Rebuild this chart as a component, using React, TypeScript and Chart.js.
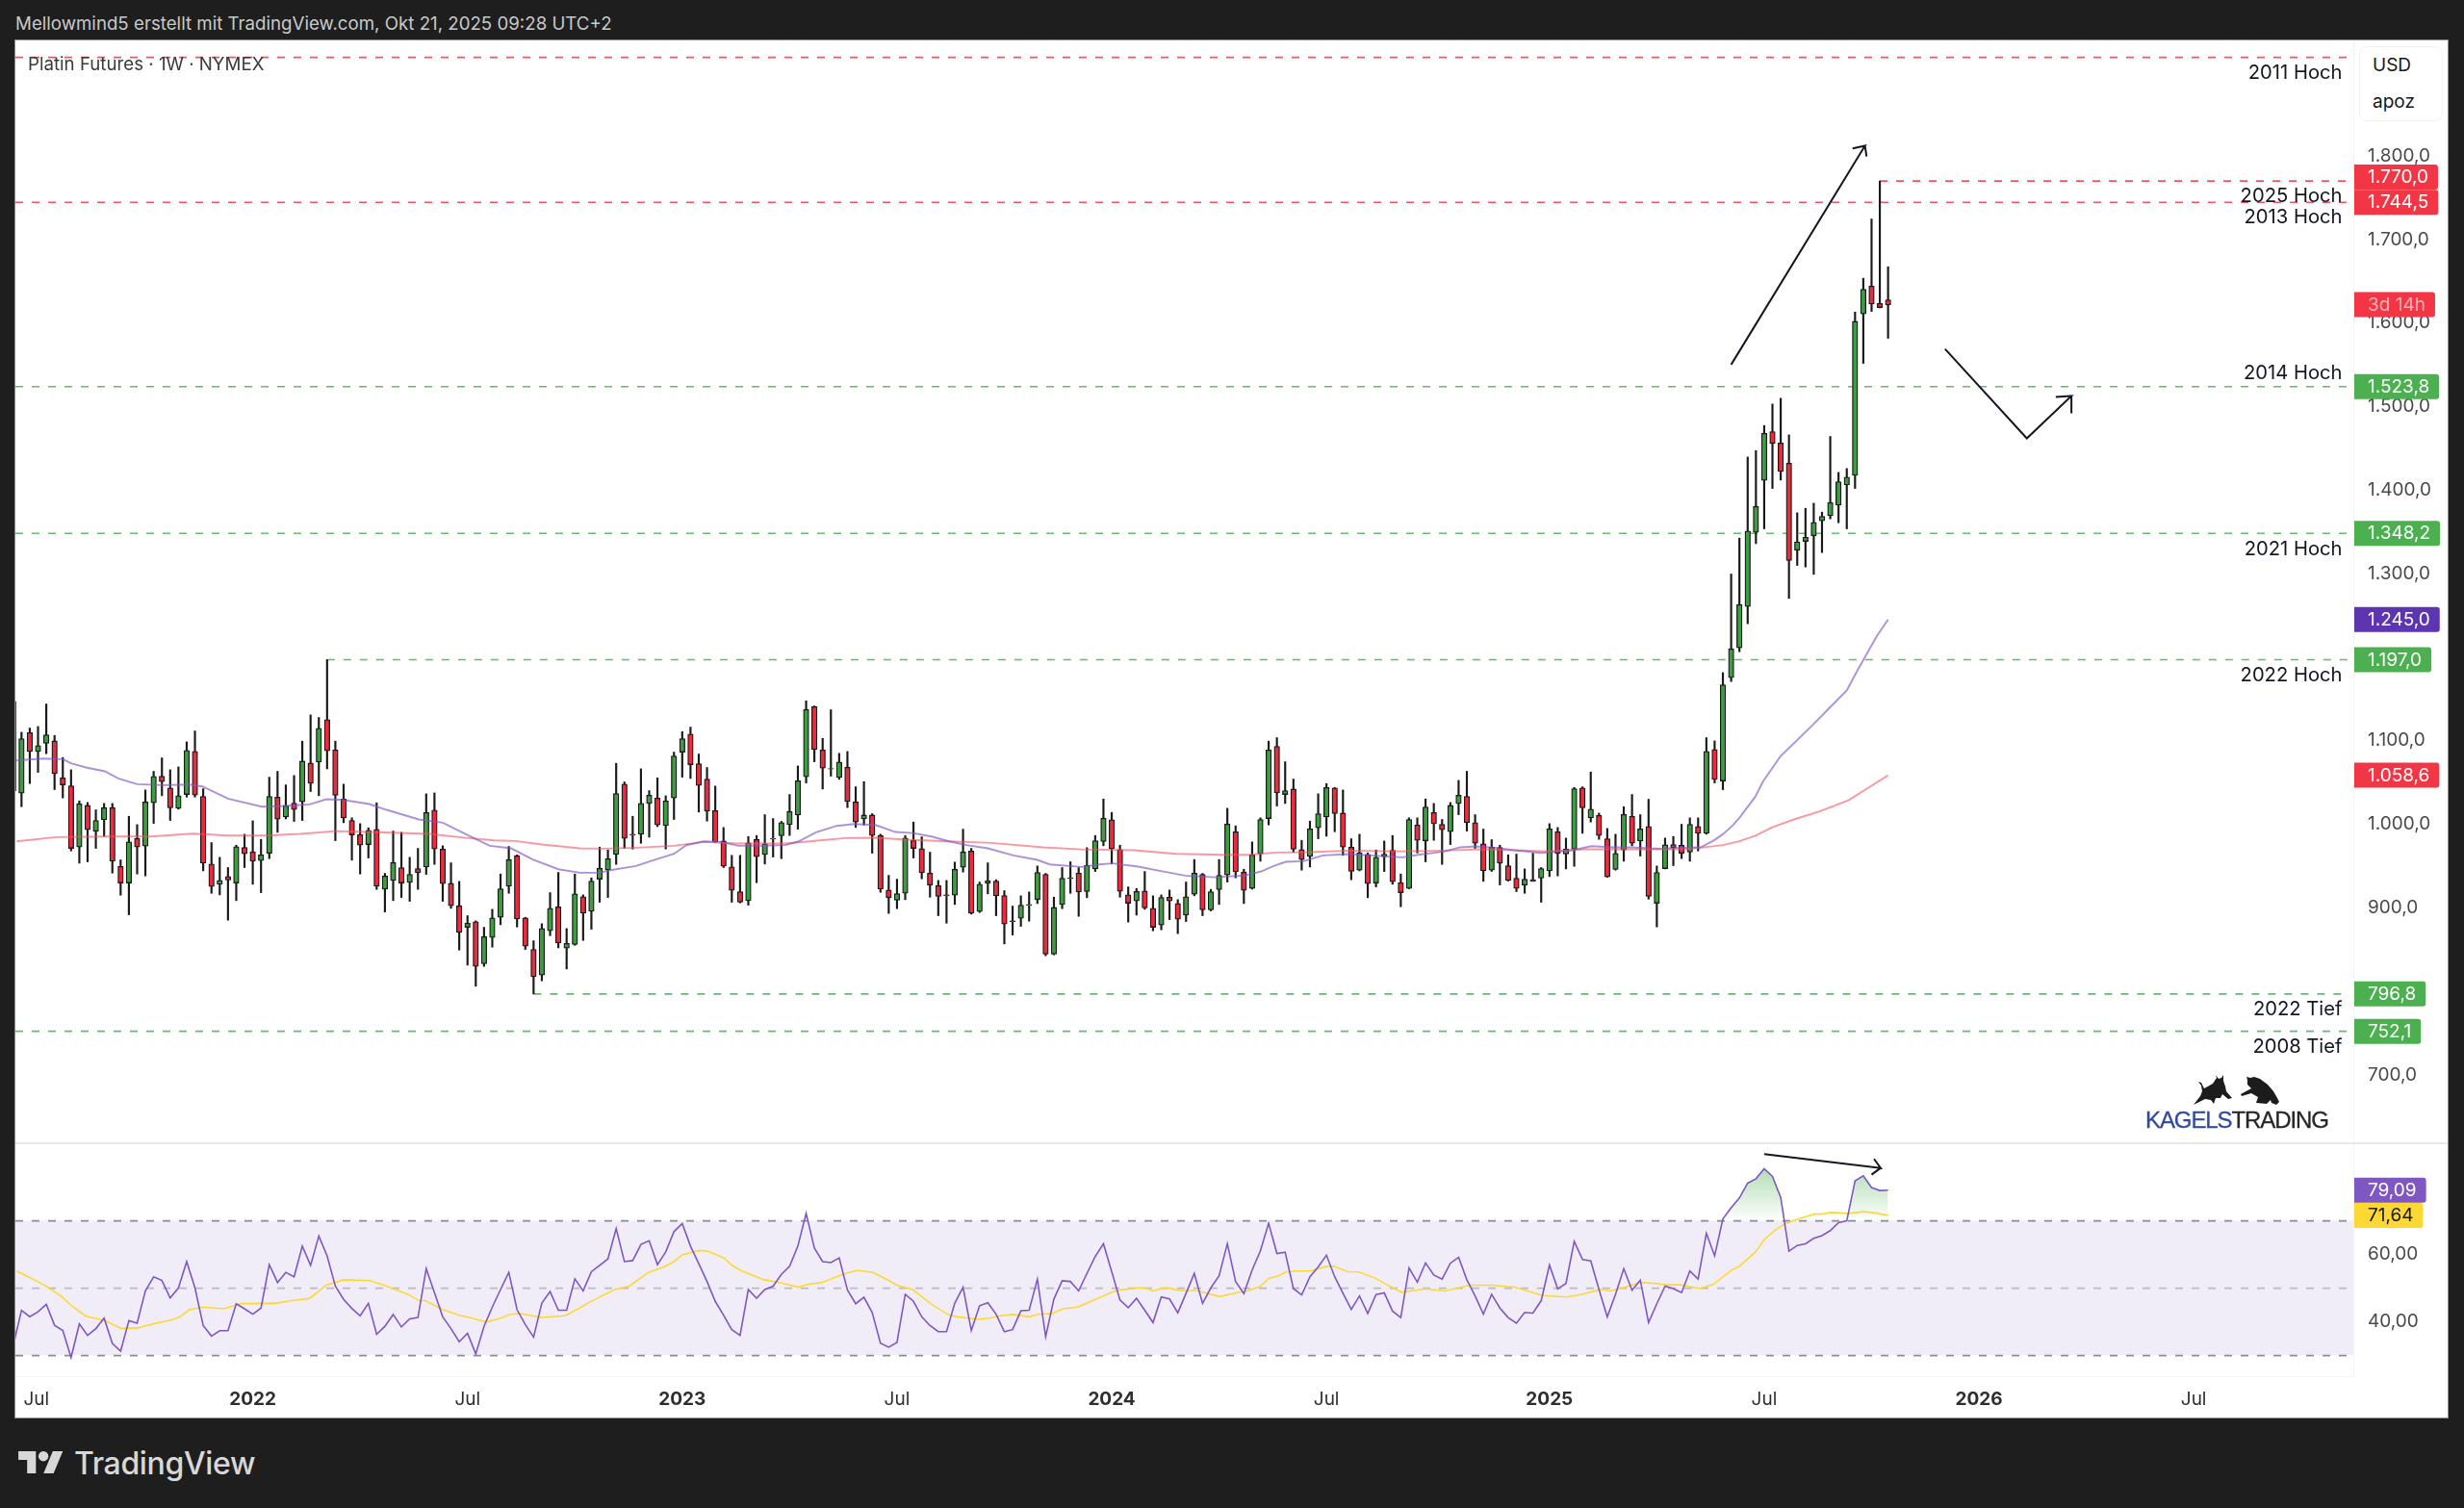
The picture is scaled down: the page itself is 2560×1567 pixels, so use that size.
import { useEffect, useRef } from 'react'
import { Chart, registerables } from 'chart.js'

Chart.register(...registerables)

// weekly candles, index = week number on the shared time axis
const open = [1040,
  1037.2,1109.7,1087.1,1096.7,1099.7,1055.6,1046,972.6,1022.5,991.5,
  1005.3,1019.9,949.6,929.6,983,973.8,1025.6,1057.5,1043.3,1019.1,
  1035.6,1087.1,1033.3,952.3,928.1,937.3,929.6,972.3,966.9,956.5,
  965,1032.5,1008.7,1025.2,1026.8,1073.2,1074.4,1125.1,1089,1030.2,
  1004.5,987.6,975.7,993.8,922.3,932.7,948.1,930.4,946.9,948.8,
  1016.8,970.3,929.2,902.4,876.6,883.2,832.9,864.3,888.5,925.8,
  962.3,887.8,850.1,819.4,872.4,901.2,851.7,855.9,913.1,895.8,
  934.2,945.4,963.8,1047.9,987.2,988,1024.9,1031.4,998.4,1031.4,
  1086.3,1107.8,1072.5,1054,1016.4,979.9,948.8,919.3,908.5,981.9,
  963.8,982.2,986.1,999.5,1011,1056.7,1140.8,1089,1065.9,1056,
  1068.3,1026.8,1006.4,1011,986.5,921.2,908.9,917.3,980.7,970.7,
  941.5,926.5,915.4,915,948.4,968,895.5,929.2,931.9,914.6,
  884.3,887.4,902.8,909.7,940,844.4,903.9,935,941.5,919.3,
  946.5,979.2,1005.3,969.6,915.4,908.1,920,899.3,879.3,912.7,
  905,891.2,916.2,940,897.4,921.6,939.2,991,942.7,923.1,
  964.6,1006.8,1093.2,1035.6,1042.1,969.6,961.5,995.7,1008.7,1043.3,
  1013.3,972.6,945,963.8,929.6,961.1,968.8,930,923.1,999.1,
  980,1014.1,999.9,991,1024.9,1033.3,1001.8,976.5,945,972.3,
  950.4,935.4,927,933.5,935.4,944.2,991,964.2,970,1043.3,
  1007.6,1010.6,982.6,945.8,969.2,1009.5,979.9,997.2,905.4,946.9,
  975.7,974.9,966.5,997.2,989.1,1089.4,1051.7,1175.4,1211.1,1260.7,
  1349.4,1411.6,1470,1456.5,1432.3,1327.9,1338.6,1345.2,1363.2,1369.3,
  1382,1406.2,1417.7,1610.8,1644.3,1623.5,1627.7]

const close = [1147,
  1102.4,1087.1,1094,1107,1060.6,1047.1,971.1,1024.5,993.4,1004.5,
  1019.9,955.7,929.6,978.8,972.6,1026.8,1057.1,1051,1019.5,1034.1,
  1088.2,1034.8,953.4,925.4,932.7,933.1,973,964.6,955.7,963.4,
  1033.3,1006,1022.2,1017.6,1075.5,1049,1114.7,1087.8,1034.5,1007.6,
  987.2,974.9,992.6,925.8,938.1,954.2,929.6,940,941.9,1014.1,
  970.3,928.9,902.4,870.5,881.6,829.8,865.5,887.8,922.7,957.7,
  886.6,854,817.5,875.1,899.3,857.8,857.4,916.6,893.5,931.9,
  947.3,958.8,1036.8,983,988,1024.9,1034.8,999.1,1027.9,1081.7,
  1102.4,1071.3,1046.4,1015.6,978.8,950,920.8,906.6,977.6,961.1,
  976.5,983,1001.8,1015.3,1052.1,1137.4,1089.4,1067.1,1066.7,1074.4,
  1027.2,1002.6,1011,986.5,922.3,912,917,983.4,971.1,941.9,
  927,913.5,914.6,946.1,966.9,893.5,928.1,932.3,914.3,880.5,
  883.5,903.1,903.9,942.3,844.4,900.4,935.4,935.8,918.9,950.7,
  980.3,1007.2,970.7,919.6,905.4,919.6,899.7,876.6,912.3,908.1,
  886.2,913.1,941.5,897.4,919.3,938.8,1000.3,943.1,920.8,963.4,
  1005.7,1089,1037.5,1040.2,970,957.7,994.5,1012.6,1044,1012.6,
  972.6,943.5,965.7,928.9,960.4,964.2,931.2,918.1,1005.7,980.7,
  1020.6,1000.7,993.4,1022.5,1034.8,1001.8,977.2,944.2,972.6,953.4,
  932.7,923.1,934.2,931.6,946.9,994.5,965,970.3,1042.5,1019.5,
  1018,986.5,936.9,965,1011.8,977.2,994.5,913.5,942.3,975.3,
  971.9,965,999.9,989.1,1087.1,1053.7,1166.9,1210,1263,1350.9,
  1380.5,1468,1455.8,1422.3,1315.6,1338,1343.6,1361.3,1368.6,1385.1,
  1410,1415.4,1602,1640.4,1622.7,1618.5,1621.6]

const high = [1150,
  1110.1,1115.1,1117,1143.9,1106.3,1079.8,1065.2,1027.9,1026,1017.2,
  1024.9,1024.9,957.3,1009.5,999.5,1041,1063.3,1079.4,1065.2,1068.6,
  1098.6,1111.6,1042.5,978,960.4,948.1,974.9,988,1004.1,981.9,
  1056.3,1063.3,1047.1,1058.3,1099.4,1130.8,1127.8,1197,1099.4,1047.9,
  1007.6,1000.7,995.7,1025.6,941.1,991.8,990.3,960.4,971.1,1036.4,
  1037.5,974.2,953.8,931.6,890.5,884.3,876.6,898.1,940.4,973.4,
  963.4,888.5,860.5,880.9,918.1,942.3,875.1,940.4,915.4,935.8,
  972.6,969.2,1072.9,1050.6,1009.5,1066.3,1040.2,1055.6,1034.1,1086.3,
  1110.9,1116.3,1084,1067.9,1045.6,996.1,962.7,962.7,985.3,986.5,
  1011.4,1006.8,1003.4,1035.6,1069.8,1147.7,1141.6,1102.8,1137,1084.8,
  1087.1,1044.8,1051,1012.6,988,938.8,934.2,986.5,1002.6,984.9,
  966.5,932.7,932.7,954.6,994.1,971.1,930.8,953.8,933.5,920.4,
  902,914.3,918.9,950,941.1,912.7,948.1,955,948.1,971.9,
  986.5,1030.2,1014.1,974.9,925,923.1,943.4,914.3,915.4,921.2,
  909.7,930.8,957.7,941.1,922,957.7,1019.1,998,946.1,978.8,
  1007.6,1099.4,1103.6,1074.8,1054,980.7,1003.7,1036.4,1048.7,1044,
  1041,982.6,988,965.7,969.2,979.9,986.5,940.4,1007.6,1007.6,
  1030.2,1024.9,1005.7,1026,1052.5,1063.3,1011.4,994.1,981.5,974.9,
  963.4,964.2,946.5,965.3,948.1,1000.7,996.1,983.4,1044,1044.8,
  1062.5,1013.3,994.9,988,1021,1035.6,1011.4,1029.9,950,983.4,
  985.3,999.9,1007.6,1007.6,1103.6,1099.7,1181.5,1299.5,1342.5,1439.6,
  1447.3,1477.3,1503,1509.9,1466.1,1372.8,1378.2,1384.3,1373.6,1464.2,
  1421.2,1425.8,1613.1,1653.5,1724.5,1770,1667.3]

const low = [1030,
  1021,1048.7,1062.1,1084.4,1041.4,1031.4,968,953.4,955,971.1,
  985.3,941.5,915,891.6,940.4,938.1,1001,1034.1,1004.5,1018,
  1032.5,1032.5,944.2,917.3,915.4,885.1,908.5,948.1,928.1,918.1,
  958.8,990.3,1006.4,1003.4,1004.5,1039.1,1034.1,1066.3,980.3,1001.8,
  956.9,940.4,959.6,922,895,908.5,912.3,907.7,922,940,
  951.9,907.7,899.3,849.4,831.3,806,829.8,852.8,879.7,917.3,
  877,850.1,796.8,812.5,866.6,852,826.7,855.1,860.9,874.3,
  906.6,912.3,951.9,971.1,970.3,977.2,984.5,997.2,970.3,1005.7,
  1056.3,1054.8,1014.5,1003.7,978,948.1,906.6,905.8,903.1,930,
  952.3,960.7,958.8,986.5,994.1,1049.4,1074.8,1042.1,1057.5,1053.7,
  1019.9,996.1,999.1,965.3,918.5,893.2,898.9,909.7,959.6,934.6,
  912.7,890.5,881.6,903.9,942.7,892.4,894.3,916.6,890.5,856.7,
  867.4,877.8,883.9,905,842.5,843.6,898.9,917.3,889.7,912,
  943.4,974.2,952.7,912.7,882.8,891.2,898.1,872.4,873.6,885.8,
  869,883.5,914.3,890.5,896.2,903.9,930.8,935.8,905,922.3,
  955.7,999.1,1021.8,1024.9,966.5,945,948.8,982.6,985.7,991,
  962.7,933.5,944.2,912,925,943.4,928.1,901.2,922.7,965.7,
  955,980.7,951.9,975.7,1011.4,991.8,971.1,931.6,943.5,927.3,
  931.9,919.3,917.3,931.6,906.6,937.3,938.1,946.5,949.6,989.1,
  1002.6,981.9,936.5,945,955.7,974.2,961.9,910.4,877,946.5,
  950.4,958.8,955.7,968,988,1049.4,1041.4,1170.8,1206.5,1240,
  1335.9,1353.6,1402,1412,1270.3,1309.8,1307.9,1299.1,1325.2,1365.5,
  1360.9,1353.6,1402,1551.7,1613.9,1618.1,1581.7]

const rsi = [33,
  43.45,41.55,43,45.2,39,37.45,29.4,39.4,36,38,
  41.1,33.6,31.3,40.4,39.6,49.2,53.4,52.3,47.1,50.1,
  57.9,50.1,38.9,35.8,37.4,37.4,45.4,43.9,42.3,44.1,
  57,51.7,54.7,53.4,62.5,56.8,65.5,59.6,50.6,46.7,
  44,41.8,45.5,36.3,38.7,42.2,38.5,40.9,41.3,55.8,
  48.7,41.5,38,34.1,36.6,30.5,38.7,44.4,49.6,54.7,
  43.6,39.2,35.5,45.6,49,43.45,43.45,52.8,49.2,54.9,
  56.8,58.7,67.7,57.9,58.2,63,64.1,57,60.8,66.8,
  69.2,62.5,57.3,52,46.1,42,37.7,36,49.6,47,
  49.6,50.6,54.1,56.5,62.5,72.2,61.9,57.9,57.6,59,
  49.5,45.4,47.3,42.8,33.7,32.5,33.9,48.2,46.1,41.5,
  38.9,37.1,37.1,45.6,50.3,37.45,44.8,45.7,42.3,37.1,
  37.7,43.3,43.45,52.7,35.6,46.8,52.2,52,49.2,54.4,
  59.4,63.2,54.9,46.5,44.2,47,43.45,39.8,47.4,46.8,
  42.7,48.5,54.4,45.5,50.1,53.7,63.2,52,48.4,55.4,
  61.1,69.3,60.3,60.7,49.9,48,53.4,56.3,59.8,53.4,
  48.5,43.7,47.7,42.5,48.1,48.6,43.2,41.3,56,51.8,
  57.5,53.9,52.7,57.4,59.2,52.5,47.7,42.3,48.2,44.1,
  41.3,39.6,42.8,42.6,46.3,56.9,49.8,51.4,63.9,58.5,
  58.1,49.6,41.5,48.2,55.8,49.4,52.4,39.8,45.4,50.6,
  49.9,48.7,55.1,52.7,66.3,59.6,70.6,73.9,76.8,81.2,
  82.5,85.5,83.2,77,61,62.7,63.2,64.8,65.6,67.1,
  69.5,70,81.9,83.4,79.9,79,79.09]

const rsiMaWeeks = [0.4,2,4,6,7,8.8,11.1,13.1,15,17.1,19.2,20.2,21.3,22.9,25.5,27.5,29.6,31.7,33.8,35.9,37.9,40,43.1,45.2,47.8,49.1,49.9,52,54.1,55.1,57.2,58.8,60.1,61.3,64,66.8,68.4,69.9,72.8,74.6,76.9,78.8,80,
  81,83.1,84.1,86.1,87,88,90.9,92.5,95.1,96.1,97.9,100.5,102.2,104.1,106,107,108.9,111.2,113.3,114.3,116.7,118.2,119.5,121.1,123,124.2,125.8,127.1,128.9,133.1,134.1,136.2,137,138,139.1,140.1,141.1,143.2,146.1,147.6,149.4,151,152,153.1,154.1,155.2,157,159.1,159.9,161.6,
  162.9,164.9,166.2,168.1,171,173.3,176.4,179,181.8,185.2,188.1,189.9,192.3,193.3,194.9,197,199,200.1,201.9,204.2,205.8,208.1,209,211,212,213.3,214.6,216.2,218,219,220.1,222.2,224,225,227]
const rsiMa = [55.1,53.2,50.6,47.3,44.9,41.7,40.4,38,38.2,39.5,40.6,41.5,43.6,44.4,43.9,45.4,45.5,45.5,46.3,47,50.9,52.5,52.3,50.6,48.2,46.3,46.3,43.7,41.9,41.4,40,40.9,42.2,42.5,41.3,41.8,43.9,46,49.6,50.6,54.7,56.3,57.9,
  59.9,61.2,61,58.9,56.8,55.4,52.5,51.8,50.3,51.1,51.7,54.2,55.3,54.7,52.3,50.9,49.6,45.2,42,41.5,40.8,41.1,41.8,42.2,41.5,42.3,42.5,43.9,44.4,48.9,49.5,50.1,50.1,49.2,50,50,49.3,49.3,47.5,48.4,49.2,50.5,52.9,53.6,54.8,55.1,55.1,56.5,56.5,54.9,
  54.8,53,51.2,48.8,49.8,49.2,50.9,50.9,50.3,47.8,47.4,48.2,49.7,49.2,50.1,51.7,51.4,51,51,49.9,51.1,55.4,56.5,60.9,64.4,67.2,69.2,70.6,72,72,72.5,72.2,72.7,72.5,71.64]

const fastMaWeeks = [0.4,3.6,6,7,8.8,11.1,12.7,15,18.2,21.3,22.9,26,30.1,32.7,35.9,37.9,40,43.1,45.2,49.1,52,55.1,57.7,60.3,62.9,66,68.6,71,72.3,75.4,77.5,80,
  81.5,83.6,85.7,87.8,90.4,93.5,95.1,97.2,99.7,101.8,104.4,106.8,108.9,111.2,113.3,115.4,118,121.1,124,125.5,129.4,131.5,133.1,136.2,138.8,141.9,145.5,149.2,151.1,152.6,154.1,156.2,158.6,161.6,
  163.9,166.2,168.2,170.1,173.2,175.2,177.1,179.4,181.8,184.9,187.2,188.8,191.1,193.8,196.1,198,199.6,201.9,204.3,205.8,207,208.2,
  209,210.9,211.9,214,215.9,217.9,219.8,222,223.3,225.6,227]
const fastMa = [1076.3,1078.6,1077.9,1072.9,1067.9,1063.3,1054.8,1047.9,1046.8,1047.5,1045.2,1030.6,1021,1021.8,1023.7,1029.9,1029.1,1024.1,1017.2,1005.7,1001.8,986.5,974.2,971.1,957.7,946.1,941.9,941.9,945,950,956.9,964.6,
  974.9,979.5,978.8,974.2,974.2,975,979.5,990.3,998,1000.3,999.1,990.7,989.5,985.3,979.5,975,971.1,962.7,957.3,951.9,948.8,951.9,953.1,949.2,944.2,938.5,936.5,938.8,943.5,950,955,955.7,962.7,964.2,
  963,961.5,960.3,963.4,967.3,972.3,973.4,971.9,968.8,965.7,967.3,968.8,973.8,972.3,972.3,971.1,970.7,971.9,972.3,980,988,998.7,
  1007.6,1032.6,1051.8,1081.7,1099.8,1119,1138.2,1160.1,1184.2,1224.6,1245]

const slowMaWeeks = [0.4,5.2,11.4,16.6,21.8,26,30.7,34.8,39,43.1,50.4,55.1,58.2,60.8,64,68.6,71.2,75.4,80,
  83.6,87.8,93.5,97.7,100.8,104.4,108.1,113.3,118.5,124.7,129.4,135.7,140.8,146.6,149.7,152.8,157,161.6,
  167.8,173.2,177.9,181.8,185.7,190.3,198,201.9,204.3,207,
  209,211,212.9,215.6,218.7,222.2,225.6,227]
const slowMa = [979.5,984.5,985.3,985.3,988.8,986.5,986.5,988.4,991.8,990.7,988.4,983.4,980.7,979.9,975.7,971.1,970.7,971.9,974.2,
  978.8,976.9,976.9,980.7,983.4,983.8,981.5,979.5,977.6,972.3,969.9,968.8,964.6,963.4,963.4,966.1,966.5,968.4,
  967.6,968.4,970,968.8,967.6,970,970,970,971.9,975,
  979.6,986.5,996,1005.7,1015.3,1028.7,1049.8,1058.6]

const priceTicks = [700,800,900,1000,1100,1200,1300,1400,1500,1600,1700,1800]
const rsiTicks = [40,60,80]
const timeWeeks = [2.8,29,55,81,107,133,159,186,212,238,264]
const timeLabels = ['Jul','2022','Jul','2023','Jul','2024','Jul','2025','Jul','2026','Jul']

const levelPrices = [1918,1770,1744.5,1523.8,1348.2,1197,796.8,752.1]
const levelStarts = [0,226,0,0,0,38,63,0]
const levelColors = ['red','red','red','green','green','green','green','green']

const noteLevels = [1918,1770,1744.5,1523.8,1348.2,1197,796.8,752.1]
const noteTexts = ['2011 Hoch','2025 Hoch','2013 Hoch','2014 Hoch','2021 Hoch','2022 Hoch','2022 Tief','2008 Tief']
const noteShift = [16,16,16,-14,17,16,16,16]

const tagPrices = [1770,1744.5,1622,1523.8,1348.2,1245,1197,1058.6,796.8,752.1]
const tagTexts = ['1.770,0','1.744,5','3d 14h','1.523,8','1.348,2','1.245,0','1.197,0','1.058,6','796,8','752,1']
const tagFills = ['#f23645','#f23645','#f23645','#4caf50','#4caf50','#5e35b1','#4caf50','#f23645','#4caf50','#4caf50']
const tagInks = ['#fff','#fff','#fbb4ba','#fff','#fff','#fff','#fff','#fff','#fff','#fff']
const tagShift = [-4,0,0,0,0,0,0,0,0,0]

const rsiTagValues = [79.09,71.64]
const rsiTagTexts = ['79,09','71,64']
const rsiTagFills = ['#7e57c2','#fdd835']
const rsiTagInks = ['#fff','#131722']

// hand drawn arrows, [week, price]
const upArrowWeeks = [208,224.2,222.7,224.2,224.4]
const upArrowPrices = [1550.2,1812.1,1809,1812.1,1799.4]
const turnArrowWeeks = [233.9,243.8,249.2,247.3,249.2,249.2]
const turnArrowPrices = [1569,1461.9,1512.6,1511.4,1512.6,1492]
const rsiArrowWeeks = [212,226.1,225.3,226.1,225]
const rsiArrowValues = [89.8,85.7,88.4,85.7,83.7]

const WEEK_MIN = 0.26
const WEEK_MAX = 283.33
const FONT = 'Inter, sans-serif'
const GREEN = '#3f9c43'
const RED = '#ee2a3e'
const WICK = '#1a1a1a'

const pairs = (xs: number[], ys: number[]) => xs.map((x, i) => ({ x, y: ys[i] }))

const groupPrice = (v: number) => {
  const [whole, dec] = v.toFixed(1).split('.')
  return `${whole.replace(/\B(?=(\d{3})+$)/g, '.')},${dec}`
}

const lineSet = (data: { x: number; y: number }[], color: string, width: number, order: number, dash: number[] = []) => ({
  type: 'line' as const,
  data,
  borderColor: color,
  borderWidth: width,
  borderDash: dash,
  pointRadius: 0,
  tension: 0,
  fill: false,
  order,
})

function drawTag(ctx: CanvasRenderingContext2D, left: number, y: number, text: string, fill: string, ink: string) {
  ctx.font = `19px ${FONT}`
  const w = ctx.measureText(text).width + 24
  ctx.fillStyle = fill
  ctx.beginPath()
  ctx.roundRect(left + 1, y - 13, w, 26, [0, 3, 3, 0])
  ctx.fill()
  ctx.fillStyle = ink
  ctx.textAlign = 'left'
  ctx.textBaseline = 'middle'
  ctx.fillText(text, left + 15, y + 0.5)
}

const priceOverlay = {
  id: 'priceOverlay',
  afterDraw(chart: Chart) {
    const { ctx, chartArea, scales } = chart
    ctx.save()
    ctx.font = `20.2px ${FONT}`
    ctx.fillStyle = '#131722'
    ctx.textAlign = 'right'
    ctx.textBaseline = 'middle'
    noteTexts.forEach((text, i) => {
      ctx.fillText(text, chartArea.right - 11.5, scales.y.getPixelForValue(noteLevels[i]) + noteShift[i])
    })
    tagPrices.forEach((p, i) => {
      drawTag(ctx, chartArea.right, scales.y.getPixelForValue(p) + tagShift[i], tagTexts[i], tagFills[i], tagInks[i])
    })
    ctx.restore()
  },
}

const rsiOverlay = {
  id: 'rsiOverlay',
  afterDraw(chart: Chart) {
    const { ctx, chartArea, scales } = chart
    ctx.save()
    rsiTagValues.forEach((v, i) => {
      drawTag(ctx, chartArea.right, scales.y.getPixelForValue(v), rsiTagTexts[i], rsiTagFills[i], rsiTagInks[i])
    })
    ctx.restore()
  },
}

// fixed axis box, and no room reserved for the outermost tick labels
const fitY = (axis: any) => {
  axis.width = 98
  axis.paddingTop = 0
  axis.paddingBottom = 0
}

export default function App() {
  const priceRef = useRef<HTMLCanvasElement>(null)
  const rsiRef = useRef<HTMLCanvasElement>(null)

  useEffect(() => {
    if (!priceRef.current || !rsiRef.current) return
    document.body.style.margin = '0'

    const candleColors = close.map((c, i) => (c >= open[i] ? GREEN : RED))

    const price = new Chart(priceRef.current, {
      type: 'bar',
      data: {
        datasets: [
          ...levelPrices.map((p, i) =>
            lineSet(
              [{ x: levelStarts[i] || WEEK_MIN, y: p }, { x: 282.7, y: p }],
              levelColors[i] === 'red' ? 'rgba(242,54,69,0.85)' : 'rgba(76,175,80,0.85)',
              1.6,
              9,
              [8, 9],
            ),
          ),
          {
            type: 'bar' as const,
            data: high.map((h, i) => ({ x: i, y: [low[i], h] })),
            backgroundColor: WICK,
            barThickness: 1.5,
            grouped: false,
            order: 6,
          },
          {
            type: 'bar' as const,
            data: open.map((o, i) => ({ x: i, y: [o, close[i]] })),
            backgroundColor: candleColors,
            borderColor: WICK,
            borderWidth: 1.3,
            borderSkipped: false,
            barThickness: 5.6,
            grouped: false,
            order: 5,
          },
          lineSet(pairs(slowMaWeeks, slowMa), 'rgba(247,82,95,0.6)', 1.9, 3),
          lineSet(pairs(fastMaWeeks, fastMa), 'rgba(126,87,194,0.65)', 1.9, 2),
          lineSet(pairs(upArrowWeeks, upArrowPrices), '#131722', 2, 1),
          lineSet(pairs(turnArrowWeeks, turnArrowPrices), '#131722', 2, 1),
        ],
      },
      options: {
        responsive: false,
        animation: false,
        layout: { padding: 0, autoPadding: false },
        plugins: { legend: { display: false }, tooltip: { enabled: false } },
        scales: {
          x: { type: 'linear', display: false, min: WEEK_MIN, max: WEEK_MAX, offset: false, grid: { display: false } },
          y: {
            position: 'right',
            min: 619.2,
            max: 1938.3,
            afterFit: fitY,
            afterBuildTicks: (axis: any) => { axis.ticks = priceTicks.map(value => ({ value })) },
            grid: { display: false, drawTicks: false },
            border: { color: '#f0f3fa', width: 1 },
            ticks: { color: '#4a4a4a', padding: 15, font: { family: FONT, size: 19 }, callback: v => groupPrice(Number(v)) },
          },
        },
      },
      plugins: [priceOverlay],
    } as any)

    const gloss = rsiRef.current.getContext('2d')!.createLinearGradient(0, 28, 0, 82)
    gloss.addColorStop(0, 'rgba(76,175,80,0.42)')
    gloss.addColorStop(1, 'rgba(76,175,80,0)')

    const osc = new Chart(rsiRef.current, {
      type: 'line',
      data: {
        datasets: [
          { ...lineSet(pairs(rsi.map((_, i) => i), rsi), '#7e57c2', 1.6, 1) },
          lineSet(pairs(rsiMaWeeks, rsiMa), '#fdd835', 1.6, 2),
          lineSet(pairs(rsiArrowWeeks, rsiArrowValues), '#131722', 2, 0),
          {
            ...lineSet(pairs(rsi.map((_, i) => i), rsi), 'transparent', 0, 3),
            fill: { target: { value: 70 }, above: gloss, below: 'transparent' },
          },
          lineSet([{ x: WEEK_MIN, y: 70 }, { x: 282.7, y: 70 }], 'rgba(120,123,134,0.85)', 1.6, 5, [8, 9]),
          lineSet([{ x: WEEK_MIN, y: 50 }, { x: 282.7, y: 50 }], 'rgba(120,123,134,0.45)', 1.6, 5, [8, 9]),
          lineSet([{ x: WEEK_MIN, y: 30 }, { x: 282.7, y: 30 }], 'rgba(120,123,134,0.85)', 1.6, 5, [8, 9]),
          {
            ...lineSet([{ x: WEEK_MIN, y: 70 }, { x: WEEK_MAX, y: 70 }], 'transparent', 0, 8),
            fill: { target: { value: 30 }, above: 'rgba(126,87,194,0.11)', below: 'transparent' },
          },
        ],
      },
      options: {
        responsive: false,
        animation: false,
        layout: { padding: 0, autoPadding: false },
        plugins: { legend: { display: false }, tooltip: { enabled: false } },
        scales: {
          x: {
            type: 'linear',
            min: WEEK_MIN,
            max: WEEK_MAX,
            afterFit: (axis: any) => {
              axis.height = 43
              axis.paddingLeft = 0
              axis.paddingRight = 0
            },
            afterBuildTicks: (axis: any) => { axis.ticks = timeWeeks.map(value => ({ value })) },
            grid: { display: false, drawTicks: false },
            border: { color: '#f0f3fa', width: 1 },
            ticks: {
              autoSkip: false,
              maxRotation: 0,
              padding: 13,
              color: '#2e2e2e',
              font: (c: any) => ({
                family: FONT,
                size: 19,
                weight: timeLabels[c.index] === 'Jul' ? '400' : '700',
              }),
              callback: (_v: any, i: number) => timeLabels[i],
            },
          },
          y: {
            position: 'right',
            min: 23.89,
            max: 93.32,
            afterFit: fitY,
            afterBuildTicks: (axis: any) => { axis.ticks = rsiTicks.map(value => ({ value })) },
            grid: { display: false, drawTicks: false },
            border: { color: '#f0f3fa', width: 1 },
            ticks: {
              color: '#4a4a4a',
              padding: 15,
              font: { family: FONT, size: 19 },
              callback: v => Number(v).toFixed(2).replace('.', ','),
            },
          },
        },
      },
      plugins: [rsiOverlay],
    } as any)

    return () => {
      price.destroy()
      osc.destroy()
    }
  }, [])

  const text = { position: 'absolute', fontFamily: FONT, whiteSpace: 'nowrap', lineHeight: 1 } as const

  return (
    <div style={{ position: 'absolute', left: 0, top: 0, width: 2560, height: 1567, background: '#1e1e1e', overflow: 'hidden' }}>
      <div style={{ ...text, left: 16, top: 16, fontSize: 18.7, color: '#c9c9c9' }}>
        Mellowmind5 erstellt mit TradingView.com, Okt 21, 2025 09:28 UTC+2
      </div>

      <div style={{ position: 'absolute', left: 16, top: 42, width: 2527, height: 1431, background: '#fff', boxShadow: '0 0 0 1px #8c8c8c' }} />
      <canvas ref={priceRef} width={2527} height={1145} style={{ position: 'absolute', left: 16, top: 42 }} />
      <canvas ref={rsiRef} width={2527} height={286} style={{ position: 'absolute', left: 16, top: 1187 }} />
      <div style={{ position: 'absolute', left: 16, top: 1187, width: 2527, height: 2, background: '#e6e7ef' }} />

      <div style={{ ...text, left: 29, top: 58, fontSize: 18.7, color: '#3a3a3a' }}>Platin Futures · 1W · NYMEX</div>

      <div style={{ position: 'absolute', left: 2451, top: 48, width: 87, height: 78, boxSizing: 'border-box', border: '1px solid #f0f1f5', borderRadius: 8, background: '#fff' }} />
      <div style={{ ...text, left: 2465, top: 58, fontSize: 19, color: '#131722' }}>USD</div>
      <div style={{ ...text, left: 2465, top: 96, fontSize: 19, color: '#131722' }}>apoz</div>

      {/* KagelsTrading mark */}
      <svg style={{ position: 'absolute', left: 2279, top: 1117 }} width={40} height={31} viewBox="0 0 40 31">
        <path d="M0 31 L7 22 L9 17 L8 11 L5 7 L8 8 L11 14 L13 13 L20 9 L24 3 L23 0 L26 4 L29 3 L31 0 L31 6 L33 12 L34 17 L40 24 L36 25 L30 20 L28 24 L23 24 L21 30 L18 26 L12 25 L6 28 Z" fill="#1c1c1c" />
      </svg>
      <svg style={{ position: 'absolute', left: 2328, top: 1118 }} width={40} height={30} viewBox="0 0 40 30">
        <path d="M7 4 L6 1 L10 2 L14 1 L20 3 L28 9 L34 16 L38 23 L40 27 L37 30 L32 28 L31 25 L27 29 L16 28 L18 22 L11 18 L1 21 L0 19 L11 13 L7 9 Z" fill="#1c1c1c" />
      </svg>
      <div style={{ ...text, left: 2229, top: 1152, fontSize: 24, fontFamily: '"Liberation Sans"', letterSpacing: -1.1, WebkitTextStroke: '0.3px' }}>
        <span style={{ color: '#2f4a9f' }}>KAGELS</span>
        <span style={{ color: '#262626' }}>TRADING</span>
      </div>

      {/* TradingView footer */}
      <svg style={{ position: 'absolute', left: 19, top: 1508 }} width={47} height={23.4} viewBox="0 4 36 18">
        <path d="M14 22H7V11H0V4h14v18zM28 22h-8l7.5-18h8L28 22z" fill="#d8d8d8" />
        <circle cx="20" cy="8" r="4" fill="#d8d8d8" />
      </svg>
      <div style={{ ...text, left: 77, top: 1505, fontSize: 32, fontWeight: 500, letterSpacing: -0.35, color: '#d8d8d8' }}>TradingView</div>
    </div>
  )
}
